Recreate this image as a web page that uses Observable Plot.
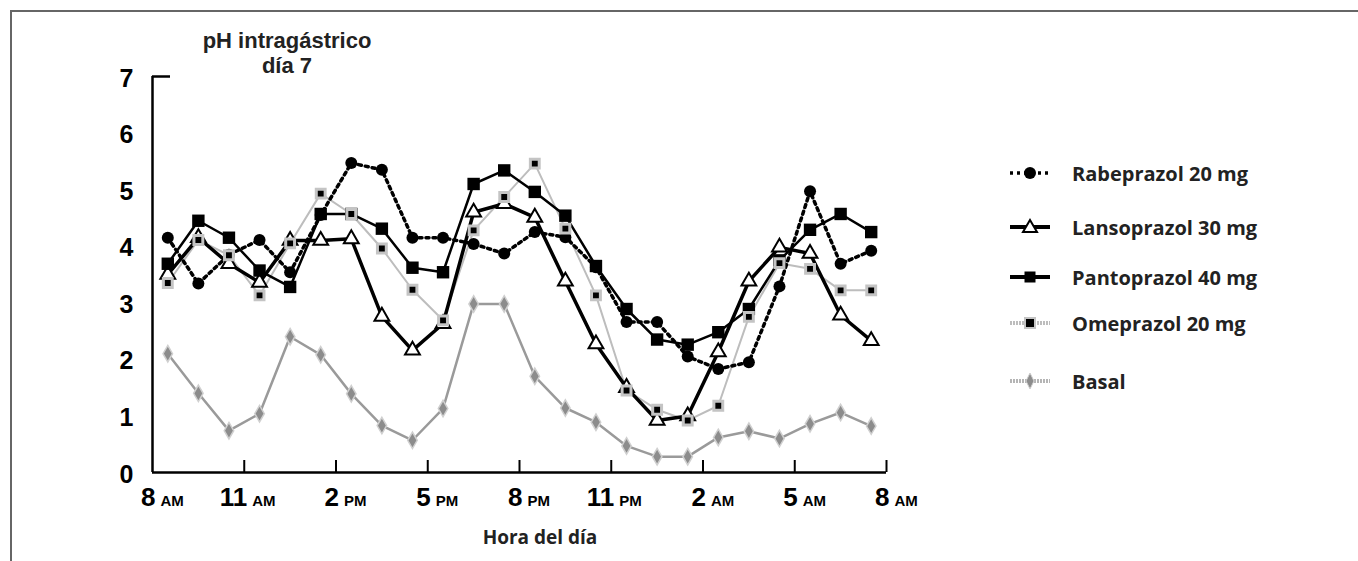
<!DOCTYPE html>
<html>
<head>
<meta charset="utf-8">
<script src="https://cdn.jsdelivr.net/npm/d3@7"></script>
<script src="https://cdn.jsdelivr.net/npm/@observablehq/plot@0.6"></script>
<style>
  html, body { margin: 0; padding: 0; background: #fff; }
  #wrap { position: relative; width: 1358px; height: 561px; overflow: hidden; background: #fff; }
  #frame { position: absolute; left: 10px; top: 10px; right: 0; bottom: 0; border-top: 2px solid #666; border-left: 2px solid #666; }
  #chart { position: absolute; left: 0; top: 0; }
  .title { position: absolute; left: 167px; width: 240px; text-align: center; font-family: "Liberation Sans", Arial, sans-serif; font-weight: 700; font-size: 22px; color: #222; line-height: 25px; }
  .xtitle { position: absolute; left: 420px; width: 240px; text-align: center; font-family: "Open Sans", "Noto Sans", sans-serif; font-weight: 700; font-size: 19px; color: #222; top: 524px; }
  .leg { position: absolute; left: 1008px; height: 26px; display: flex; align-items: center; font-family: "Open Sans", "Noto Sans", sans-serif; font-weight: 700; font-size: 20px; color: #222; }
  .leg svg { margin-right: 20px; }
</style>
</head>
<body>
<div id="wrap">
  <div id="frame"></div>
  <div id="chart"></div>
  <div class="title" style="top:28px">pH intragástrico</div>
  <div class="title" style="top:53px">día 7</div>
  <div class="xtitle">Hora del día</div>
  <div id="legend"></div>
</div>
<script>
// ---- data ----
const hours = [0.5, 1.5, 2.5, 3.5, 4.5, 5.5, 6.5, 7.5, 8.5, 9.5, 10.5, 11.5,
               12.5, 13.5, 14.5, 15.5, 16.5, 17.5, 18.5, 19.5, 20.5, 21.5, 22.5, 23.5];
const rabeprazol = [4.15, 3.34, 3.85, 4.11, 3.54, 4.55, 5.47, 5.35, 4.15, 4.15, 4.04, 3.87,
                    4.25, 4.16, 3.63, 2.66, 2.66, 2.05, 1.83, 1.95, 3.29, 4.97, 3.69, 3.92];
const lansoprazol = [3.5, 4.15, 3.69, 3.36, 4.1, 4.1, 4.13, 2.76, 2.16, 2.63, 4.6, 4.75,
                     4.51, 3.38, 2.27, 1.5, 0.92, 1.0, 2.13, 3.38, 3.98, 3.87, 2.78, 2.33];
const pantoprazol = [3.69, 4.45, 4.15, 3.57, 3.28, 4.57, 4.57, 4.31, 3.62, 3.54, 5.10, 5.34,
                     4.96, 4.54, 3.65, 2.89, 2.35, 2.26, 2.48, 2.89, 3.75, 4.29, 4.57, 4.25];
const omeprazol = [3.35, 4.11, 3.84, 3.13, 4.05, 4.93, 4.57, 3.96, 3.23, 2.69, 4.28, 4.87,
                   5.46, 4.31, 3.13, 1.45, 1.11, 0.92, 1.18, 2.75, 3.7, 3.6, 3.22, 3.22];
const basal = [2.10, 1.40, 0.74, 1.04, 2.40, 2.08, 1.39, 0.83, 0.57, 1.13, 2.98, 2.98,
               1.70, 1.14, 0.89, 0.47, 0.28, 0.28, 0.62, 0.73, 0.60, 0.86, 1.06, 0.82];
const seriesNames = ["Rabeprazol 20 mg", "Lansoprazol 30 mg", "Pantoprazol 40 mg", "Omeprazol 20 mg", "Basal"];
const tickHours = [0, 3, 6, 9, 12, 15, 18, 21, 24];
const tickNumbers = ["8", "11", "2", "5", "8", "11", "2", "5", "8"];
const tickSuffixes = ["AM", "AM", "PM", "PM", "PM", "PM", "AM", "AM", "AM"];
const yTicks = [0, 1, 2, 3, 4, 5, 6, 7];

// ---- build ----
const rows = (vals) => hours.map((h, i) => ({hour: h, ph: vals[i]}));
const R = rows(rabeprazol), L = rows(lansoprazol), P = rows(pantoprazol), O = rows(omeprazol), B = rows(basal);

const axisFont = "'Liberation Sans', Arial, sans-serif";

const plot = Plot.plot({
  width: 1358,
  height: 561,
  marginLeft: 152,
  marginRight: 472,
  marginTop: 76,
  marginBottom: 89,
  x: {domain: [0, 24], axis: null},
  y: {domain: [0, 7], axis: null},
  style: {background: "transparent", overflow: "visible"},
  marks: [
    // axes
    Plot.ruleY([0], {stroke: "#000", strokeWidth: 2.5}),
    Plot.ruleX([0], {stroke: "#000", strokeWidth: 2.5}),
    Plot.tickX(tickHours.slice(1), {x: d => d, stroke: "#000", strokeWidth: 2, insetTop: 384}),
    Plot.tickY([7], {y: d => d, stroke: "#000", strokeWidth: 2.5, insetRight: 716}),
    Plot.text(yTicks, {y: d => d, text: d => String(d), frameAnchor: "left", textAnchor: "end", dx: -19, dy: 2,
      fontFamily: axisFont, fontWeight: "bold", fontSize: 25, fill: "#000", ariaLabel: "y-tick-label"}),
    Plot.text(tickHours, {x: d => d, text: (d, i) => tickNumbers[i], frameAnchor: "bottom", lineAnchor: "bottom",
      textAnchor: "end", dx: 3, dy: 33,
      fontFamily: axisFont, fontWeight: "bold", fontSize: 26, fill: "#000", ariaLabel: "x-tick-number"}),
    Plot.text(tickHours, {x: d => d, text: (d, i) => tickSuffixes[i], frameAnchor: "bottom", lineAnchor: "bottom",
      textAnchor: "start", dx: 8, dy: 33,
      fontFamily: axisFont, fontWeight: "bold", fontSize: 15, fill: "#000", ariaLabel: "x-tick-suffix"}),
    // Basal
    Plot.line(B, {x: "hour", y: "ph", stroke: "#9a9a9a", strokeWidth: 2.5}),
    Plot.dot(B, {x: "hour", y: "ph", symbol: "diamond", r: 5, fill: "#8c8c8c", stroke: "#d0d0d0", strokeWidth: 1.5}),
    // lines
    Plot.line(O, {x: "hour", y: "ph", stroke: "#bdbdbd", strokeWidth: 2}),
    Plot.line(L, {x: "hour", y: "ph", stroke: "#000", strokeWidth: 3.5}),
    Plot.line(P, {x: "hour", y: "ph", stroke: "#000", strokeWidth: 2.5}),
    Plot.line(R, {x: "hour", y: "ph", stroke: "#000", strokeWidth: 3.5, strokeDasharray: "3,4"}),
    // markers
    Plot.dot(L, {x: "hour", y: "ph", symbol: "triangle", r: 5.5, fill: "#fff", stroke: "#000", strokeWidth: 2}),
    Plot.dot(P, {x: "hour", y: "ph", symbol: "square", r: 7, fill: "#000", stroke: "none"}),
    Plot.dot(R, {x: "hour", y: "ph", symbol: "circle", r: 6, fill: "#000", stroke: "none"}),
    Plot.dot(O, {x: "hour", y: "ph", symbol: "square", r: 5, fill: "#000", stroke: "#c4c4c4", strokeWidth: 3})
  ]
});
document.getElementById("chart").appendChild(plot);

// condense the axis digits horizontally (narrow bold face look); scaling about each text's anchor
function condense(label, s) {
  plot.querySelectorAll(`g[aria-label="${label}"] text`).forEach(t => {
    const tr = t.getAttribute("transform") || "";
    t.setAttribute("transform", tr + ` scale(${s},1)`);
  });
}
condense("y-tick-label", 0.75);
condense("x-tick-number", 0.75);
condense("x-tick-suffix", 0.95);

// ---- legend ----
const legendTops = [160, 214, 264, 310, 368];
const legendSymbols = [
  '<svg width="44" height="20"><line x1="2" y1="10" x2="42" y2="10" stroke="#000" stroke-width="3.5" stroke-dasharray="3,4"/><circle cx="22" cy="10" r="6" fill="#000"/></svg>',
  '<svg width="44" height="20"><line x1="2" y1="10" x2="42" y2="10" stroke="#000" stroke-width="4"/><path d="M22,3 L29,15 L15,15 Z" fill="#fff" stroke="#000" stroke-width="2"/></svg>',
  '<svg width="44" height="20"><line x1="2" y1="10" x2="42" y2="10" stroke="#000" stroke-width="4"/><rect x="16.5" y="4.5" width="11" height="11" fill="#000"/></svg>',
  '<svg width="44" height="20"><line x1="2" y1="10" x2="42" y2="10" stroke="#bdbdbd" stroke-width="4" stroke-dasharray="2,1"/><rect x="17" y="5" width="10" height="10" fill="#000" stroke="#c4c4c4" stroke-width="2"/></svg>',
  '<svg width="44" height="20"><line x1="2" y1="10" x2="42" y2="10" stroke="#b5b5b5" stroke-width="4" stroke-dasharray="2,1"/><path d="M22,2 L26,10 L22,18 L18,10 Z" fill="#8c8c8c" stroke="#cfcfcf" stroke-width="1"/></svg>'
];
const leg = document.getElementById("legend");
seriesNames.forEach((name, i) => {
  const d = document.createElement("div");
  d.className = "leg";
  d.style.top = legendTops[i] + "px";
  d.innerHTML = legendSymbols[i] + "<span></span>";
  d.querySelector("span").textContent = name;
  leg.appendChild(d);
});
</script>
</body>
</html>
